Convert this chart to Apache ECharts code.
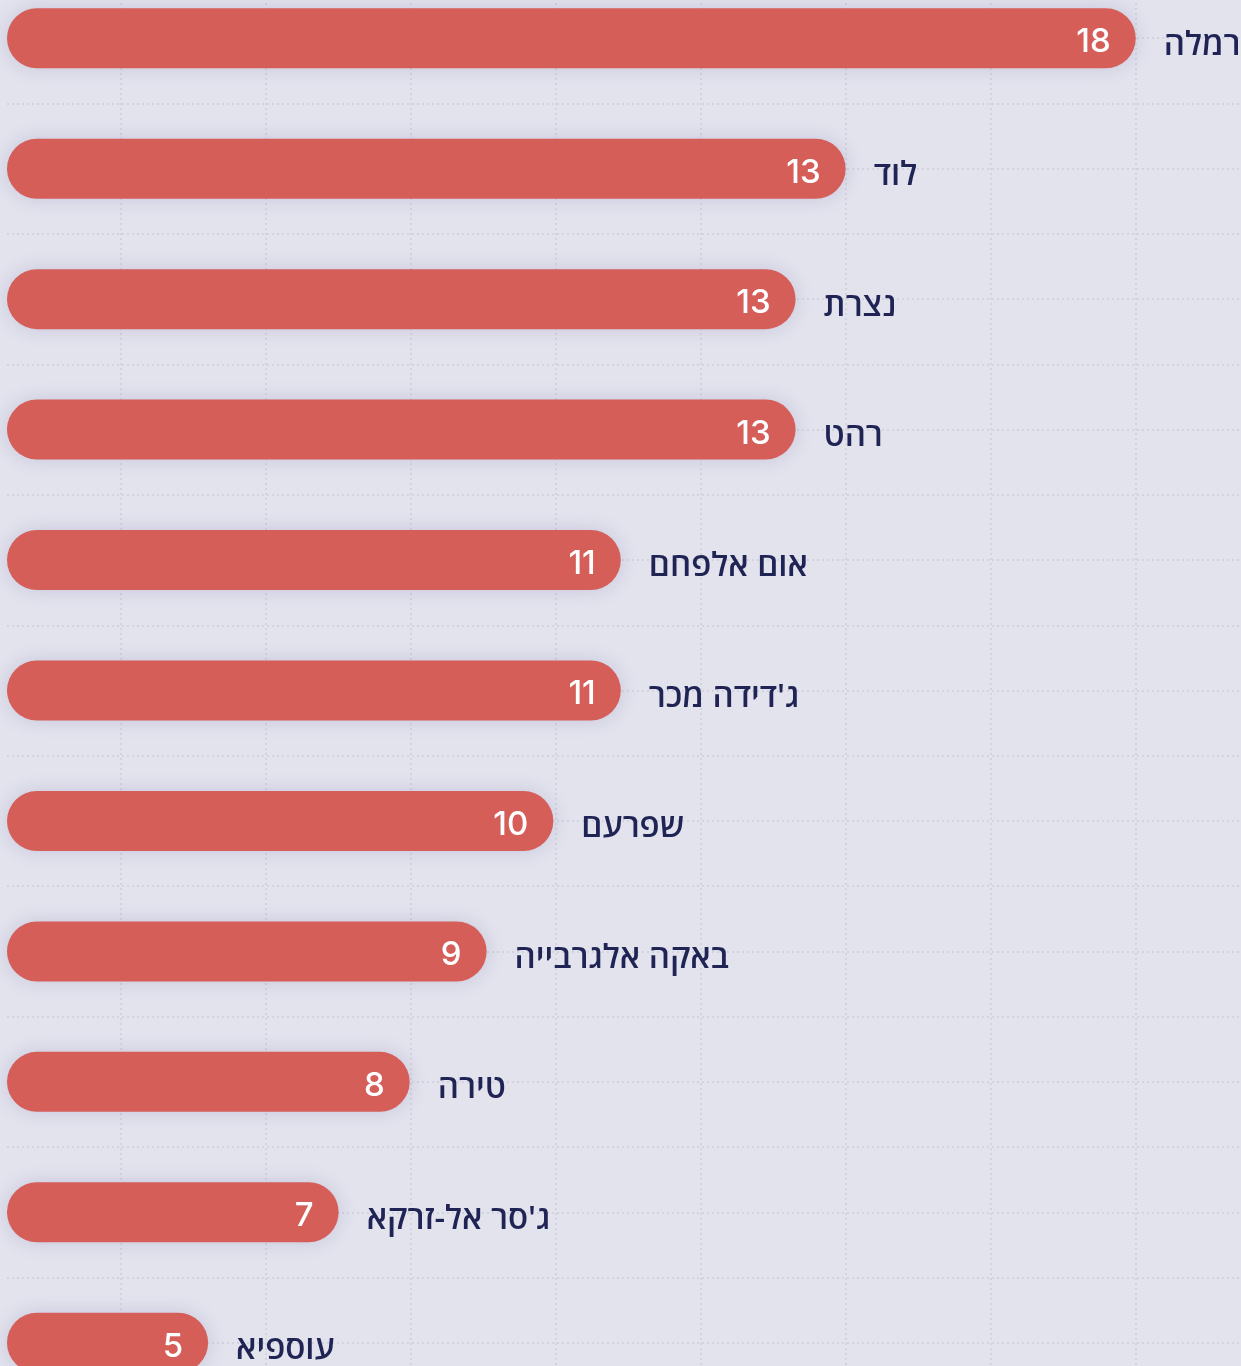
<!DOCTYPE html>
<html><head><meta charset="utf-8">
<script src="https://cdn.jsdelivr.net/npm/echarts@6/dist/echarts.min.js"></script>
<style>
html,body{margin:0;padding:0;background:#e3e3ee;overflow:hidden;width:1241px;height:1366px}
#chart{position:absolute;left:0;top:-27px;width:1241px;height:1435px}
</style>
</head><body><div id="chart"></div>
<script>
// Data
const cities = ['רמלה', 'לוד', 'נצרת', 'רהט', 'אום אלפחם', "ג'דידה מכר", 'שפרעם', 'באקה אלגרבייה', 'טירה', "ג'סר אל-זרקא", 'עוספיא'];
const counts = [18, 13, 13, 13, 11, 11, 10, 9, 8, 7, 5];
const barLengths = [18.0, 14.0, 13.31, 13.31, 10.9, 10.9, 9.97, 9.05, 7.99, 7.01, 5.21];

const gridDot = { color: '#d3d3df', width: 2, type: [2, 3] };
const chart = echarts.init(document.getElementById('chart'), null, { renderer: 'canvas' });
chart.setOption({
  backgroundColor: '#e3e3ee',
  animation: false,
  grid: { left: 7, right: 0, top: 0, bottom: 0 },
  xAxis: {
    type: 'value', min: 2.4376, max: 19.451, splitNumber: 8,
    axisLine: { show: false }, axisTick: { show: false }, axisLabel: { show: false },
    splitLine: { show: true, showMinLine: false, showMaxLine: false, lineStyle: gridDot }
  },
  yAxis: [
    {
      type: 'category', data: cities, inverse: true,
      axisLine: { show: false }, axisTick: { show: false }, axisLabel: { show: false },
      splitLine: { show: false }
    },
    {
      type: 'value', inverse: true, min: -0.5, max: 10.5, interval: 0.5,
      axisLine: { show: false }, axisTick: { show: false }, axisLabel: { show: false },
      splitLine: { show: true, lineStyle: gridDot }
    }
  ],
  series: [
    {
      type: 'bar', yAxisIndex: 0, data: barLengths, barWidth: 60,
      itemStyle: { color: '#d55e59', borderRadius: 30, shadowBlur: 18, shadowColor: 'rgba(90,90,150,0.22)' },
      label: {
        show: true, position: 'insideRight', distance: 25, offset: [0, 4],
        formatter: p => String(counts[p.dataIndex]),
        color: '#ffffff', fontSize: 33, fontWeight: 500, fontFamily: 'Inter'
      }
    },
    {
      type: 'bar', yAxisIndex: 0, data: barLengths, barWidth: 60, barGap: '-100%', silent: true,
      itemStyle: { color: 'rgba(0,0,0,0)' },
      label: {
        show: true, position: 'right', distance: 28, offset: [0, 7],
        formatter: p => cities[p.dataIndex],
        color: '#1f2455', fontSize: 33, fontWeight: 600, fontFamily: 'Open Sans'
      }
    }
  ]
});
</script></body></html>
